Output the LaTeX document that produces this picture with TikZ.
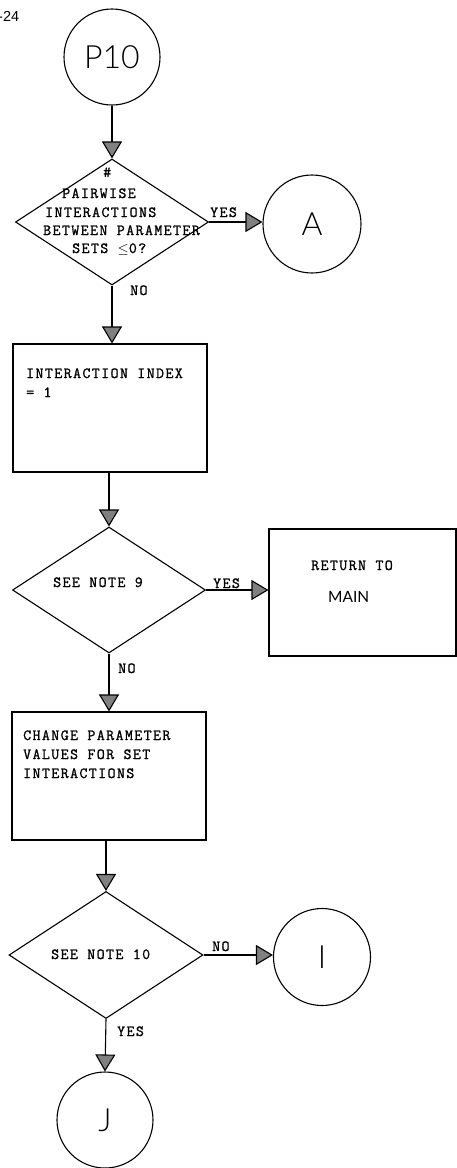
\documentclass[tikz,border=0pt]{standalone}
\usepackage{fontspec}
\usetikzlibrary{shapes.geometric,arrows.meta,calc}
\newfontfamily\typer{Latin Modern Mono}[LetterSpace=9,FakeBold=1.2]
\newfontfamily\lettering{Lato Light}
\newfontfamily\stencil{Lato}
\newfontfamily\pagefont{Liberation Sans}

\tikzset{
  flow/.style={line width=1.1pt},
  arr/.style={flow,-{Triangle[length=17pt,width=20pt,fill=black!50]}},
  conn/.style={circle,draw,flow,minimum size=#1,inner sep=0pt,
               font=\lettering\fontsize{32}{32}\selectfont},
  decide/.style={diamond,draw,flow,inner sep=0pt,minimum width=193pt,minimum height=126pt},
  procbox/.style={rectangle,draw,flow,inner sep=0pt},
  tw/.style={inner sep=0pt,anchor=base west,font=\typer\fontsize{15.5}{17}\selectfont},
}

\begin{document}
\begin{tikzpicture}[x=1pt,y=-1pt]
\useasboundingbox (0,0) rectangle (457,1168);
\fill[white] (0,0) rectangle (457,1168);

% page number
\node[inner sep=0pt,anchor=base west,font=\pagefont\fontsize{14.5}{14.5}\selectfont] (pg) at (-2,21) {-24};

% entry connector
\node[conn=96pt] (p10) at (112,57) {P10};

% first decision
\node[decide] (d1) at (112,222) {};
\node[tw] (d1a) at (103,177) {\#};
\node[tw] (d1b) at (62,198) {PAIRWISE};
\node[tw] (d1c) at (45,217) {INTERACTIONS};
\node[tw] (d1d) at (43,235) {BETWEEN PARAMETER};
\node[tw] (d1e) at (72,253) {SETS $\leq$0?};
\node[conn=98pt] (ca) at (312,224) {A};
\node[tw] (d1yes) at (210,217) {YES};
\node[tw] (d1no) at (130,295) {NO};

% index initialisation
\node[procbox,minimum width=194pt,minimum height=128pt] (b1) at (110,408) {};
\node[tw] (b1a) at (26,378) {INTERACTION INDEX};
\node[tw] (b1b) at (26,397) {= 1};

% second decision
\node[decide] (d2) at (109,590) {};
\node[tw] (d2t) at (53,587) {SEE NOTE 9};
\node[tw] (d2yes) at (213,588) {YES};
\node[procbox,minimum width=187pt,minimum height=127pt] (ret) at (362.5,592.5) {};
\node[tw] (reta) at (311,570) {RETURN TO};
\node[inner sep=0pt,anchor=base west,font=\stencil\fontsize{15.5}{15.5}\selectfont] (retb) at (328,602) {MAIN};
\node[tw] (d2no) at (118,673) {NO};

% parameter change
\node[procbox,minimum width=194pt,minimum height=128pt] (b3) at (109,776) {};
\node[tw] (b3a) at (23,740) {CHANGE PARAMETER};
\node[tw] (b3b) at (23,759) {VALUES FOR SET};
\node[tw] (b3c) at (23,778) {INTERACTIONS};

% third decision
\node[decide,minimum width=194pt,minimum height=127pt] (d3) at (106,955) {};
\node[tw] (d3t) at (51,959) {SEE NOTE 10};
\node[tw] (d3no) at (212,951) {NO};
\node[tw] (d3yes) at (117,1036) {YES};
\node[conn=97pt] (ci) at (322,957) {I};
\node[conn=96pt] (cj) at (105,1120) {J};

% connectors
\draw[arr] (p10.south) -- (p10.south |- d1.north);
\draw[arr] (d1.east) -- (d1.east -| ca.west);
\draw[arr] (d1.south) -- (d1.south |- b1.north);
\draw[arr] (d2.north |- b1.south) -- (d2.north);
\draw[arr] (d2.east) -- (d2.east -| ret.west);
\draw[arr] (d2.south) -- (d2.south |- b3.north);
\draw[arr] (d3.north |- b3.south) -- (d3.north);
\draw[arr] (d3.east) -- (d3.east -| ci.west);
\draw[arr] (d3.south) -- (cj.north);
\end{tikzpicture}
\end{document}
